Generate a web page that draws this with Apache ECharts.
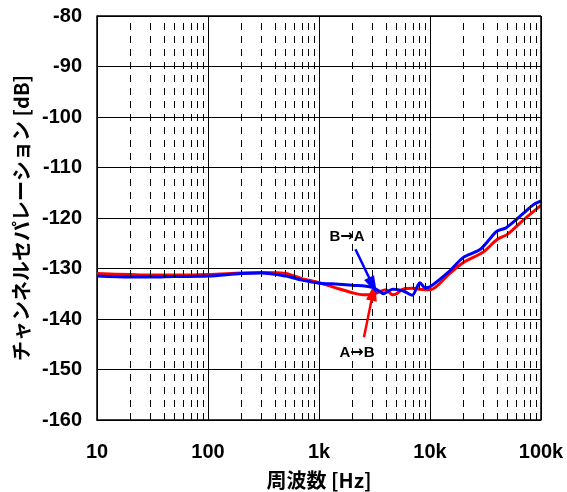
<!DOCTYPE html>
<html><head><meta charset="utf-8">
<script src="https://cdn.jsdelivr.net/npm/echarts@6/dist/echarts.min.js"></script>
<style>html,body{margin:0;padding:0;background:#fff}#c{width:567px;height:492px}</style>
</head><body><div id="c"></div>
<script>
const xTickLabels = {10:'10',100:'100',1000:'1k',10000:'10k',100000:'100k'};
const yTicks = [-160,-150,-140,-130,-120,-110,-100,-90,-80];
const minorFreqs = [];
[10,100,1000,10000].forEach(d=>{for(let k=2;k<=9;k++)minorFreqs.push(d*k);});

const freqAB = [10,20,30,50,100,200,300,500,700,1000,1500,2000,2500,3000,3500,4000,4600,5000,5700,7000,8000,10000,15000,20000,30000,40000,50000,70000,100000];
const valAB  = [-131.0,-131.2,-131.3,-131.3,-131.2,-130.9,-130.8,-131.0,-132.0,-132.8,-134.0,-134.8,-135.2,-135.2,-134.6,-134.2,-135.2,-135.0,-134.1,-133.9,-134.1,-134.2,-131.0,-128.8,-126.8,-124.3,-123.2,-120.3,-117.5];

const freqBA = [10,20,30,50,100,200,300,500,700,1000,1500,2000,3000,3500,3800,4600,5700,6900,7700,8100,9000,10000,15000,20000,28000,35000,40000,48000,60000,70000,85000,100000];
const valBA  = [-131.5,-131.7,-131.7,-131.6,-131.5,-131.0,-130.9,-131.5,-132.3,-132.9,-133.1,-133.3,-133.7,-134.5,-135.0,-134.1,-134.4,-135.3,-133.5,-132.8,-133.8,-133.6,-130.5,-127.8,-126.3,-124.0,-122.6,-122.0,-120.3,-119.0,-117.4,-116.6];

const labelAB = {a:'A', b:'B', at:[2197,-146.7], arrowFrom:[2541,-143.6], arrowTo:[3080,-134.6]};
const labelBA = {a:'B', b:'A', at:[1787,-123.8], arrowFrom:[2130,-126.2], arrowTo:[3064,-133.4]};

const font = '"Liberation Sans", Arial, sans-serif';
const cjk = '"Noto Sans CJK JP", "Liberation Sans", sans-serif';
const chart = echarts.init(document.getElementById('c'));
function arrowMark(lbl,color){
  return {
    markLine:{silent:true,animation:false,symbol:['none','triangle'],symbolSize:[11,18],
      lineStyle:{color:color,width:2.5,type:'solid'},label:{show:false},
      data:[[{coord:lbl.arrowFrom},{coord:lbl.arrowTo}]]},
    markPoint:{silent:true,animation:false,symbol:'rect',symbolSize:[1,1],itemStyle:{color:'rgba(0,0,0,0)'},
      label:{show:true,position:'inside',formatter:'{t|'+lbl.a+'}{r|→}{t|'+lbl.b+'}',
        rich:{t:{color:'#000',fontFamily:font,fontWeight:'bold',fontSize:15},
              r:{color:'#000',fontFamily:'"DejaVu Sans", sans-serif',fontWeight:'bold',fontSize:16}}},
      data:[{coord:lbl.at}]}
  };
}
chart.setOption({
  animation:false,
  grid:{left:97,right:26,top:16,bottom:72,show:false,outerBoundsMode:'none',containLabel:false},
  xAxis:{type:'log',logBase:10,min:10,max:100000,
    axisLine:{show:true,onZero:false,lineStyle:{color:'#000',width:1.5}},
    axisTick:{show:false},minorTick:{show:false},
    splitLine:{show:true,lineStyle:{color:'#000',width:1}},
    axisLabel:{margin:22,color:'#000',fontFamily:font,fontWeight:'bold',fontSize:20,
      formatter:v=>xTickLabels[Math.round(v)]||''},
    name:'周波数 [Hz]',nameLocation:'middle',nameGap:50,
    nameTextStyle:{color:'#000',fontFamily:cjk,fontWeight:'bold',fontSize:20}},
  yAxis:{type:'value',min:yTicks[0],max:yTicks[yTicks.length-1],interval:10,
    axisLine:{show:true,onZero:false,lineStyle:{color:'#000',width:1.5}},
    axisTick:{show:false},
    splitLine:{show:true,lineStyle:{color:'#000',width:1}},
    axisLabel:{margin:15,color:'#000',fontFamily:font,fontWeight:'bold',fontSize:20},
    name:'チャンネルセパレーション [dB]',nameLocation:'middle',nameGap:66,nameRotate:90,
    nameTextStyle:{color:'#000',fontFamily:cjk,fontWeight:'bold',fontSize:20}},
  series:[
    {type:'line',data:[],silent:true,
      markLine:{silent:true,animation:false,symbol:'none',label:{show:false},
        lineStyle:{color:'#000',width:1,type:[7,6]},
        data:minorFreqs.map(f=>({xAxis:f}))}},
    {type:'line',data:[],silent:true,
      markLine:{silent:true,animation:false,symbol:'none',label:{show:false},
        lineStyle:{color:'#000',width:1.5,type:'solid'},
        data:[{xAxis:100000},{yAxis:-80}]}},
    Object.assign({name:'A→B',type:'line',showSymbol:false,smooth:0.3,
      lineStyle:{color:'#ff0000',width:3},itemStyle:{color:'#ff0000'},
      data:freqAB.map((f,i)=>[f,valAB[i]])}, arrowMark(labelAB,'#ff0000')),
    Object.assign({name:'B→A',type:'line',showSymbol:false,smooth:0.3,
      lineStyle:{color:'#0000ff',width:3},itemStyle:{color:'#0000ff'},
      data:freqBA.map((f,i)=>[f,valBA[i]])}, arrowMark(labelBA,'#0000ff'))
  ]
});
</script></body></html>
